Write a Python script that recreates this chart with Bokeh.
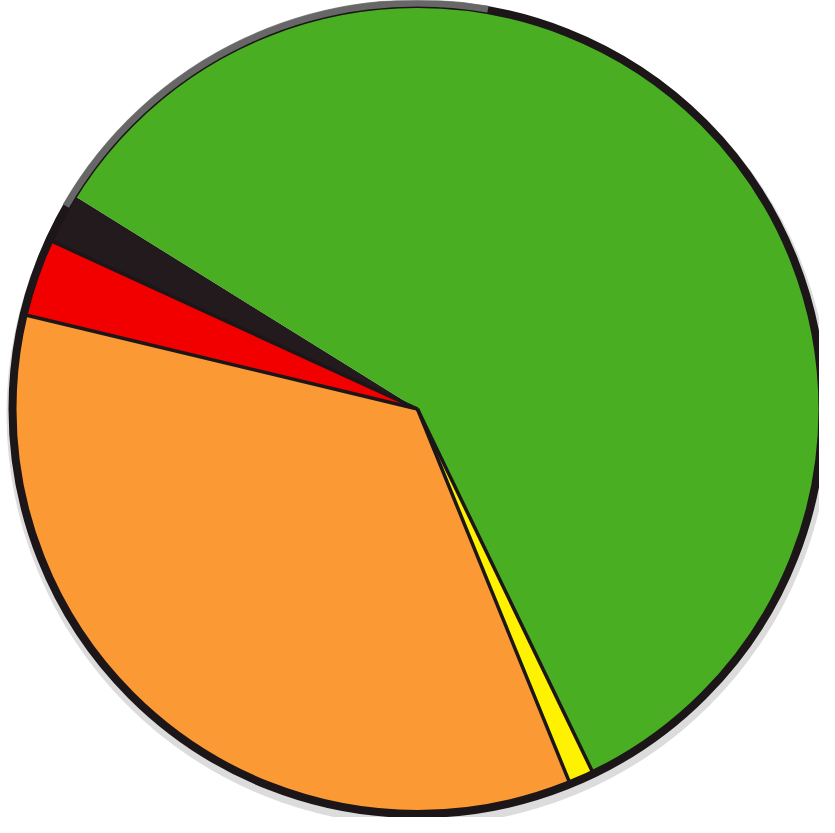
import numpy as np
from bokeh.plotting import figure
from bokeh.models import Range1d, ColumnDataSource
from bokeh.embed import file_html
from bokeh.resources import INLINE

# Data (share of the whole, %), counter-clockwise order
categories = ["Black", "Red", "Orange", "Yellow", "Green"]
values = [2.0, 3.1, 34.9, 1.0, 59.0]
colors = ["#221a1d", "#f20000", "#fb9a35", "#fff200", "#4aae23"]

# Layout constants
W, H = 819, 817
cx, cy = 425, 416.5
R = 404
start_deg = 148.15

vals = np.array(values, dtype=float)
frac = vals / vals.sum()
ends = np.deg2rad(start_deg) + 2 * np.pi * np.cumsum(frac)
starts = ends - 2 * np.pi * frac

src = ColumnDataSource(dict(cat=categories, start=starts, end=ends, color=colors,
                            x=[cx] * len(values), y=[cy] * len(values)))

p = figure(width=W, height=H, x_range=Range1d(8, 8 + W), y_range=Range1d(8, 8 + H),
           output_backend="svg", toolbar_location=None, min_border=0)
p.axis.visible = False
p.grid.visible = False
p.outline_line_color = None
p.background_fill_color = "white"
p.border_fill_color = "white"

# soft shadow under the disc
p.circle(x=cx + 1, y=cy - 5, radius=R + 8, fill_color="#dcdcdc", line_color=None)

p.wedge(x="x", y="y", radius=R, start_angle="start", end_angle="end",
        fill_color="color", line_color=None, source=src)

# separator lines between slices (skip green/black edge)
sep = list(starts[1:])
p.ray(x=[cx] * len(sep), y=[cy] * len(sep), length=R, angle=sep,
      line_color="#1c1618", line_width=3.5)

# outer rim
p.circle(x=cx, y=cy, radius=R + 1, fill_color=None, line_color="#1c1618", line_width=8)
p.arc(x=cx, y=cy, radius=R + 2, start_angle=np.deg2rad(80), end_angle=np.deg2rad(150),
      line_color="#767676", line_width=7, line_alpha=0.85)

open("out.html", "w").write(file_html(p, INLINE))
